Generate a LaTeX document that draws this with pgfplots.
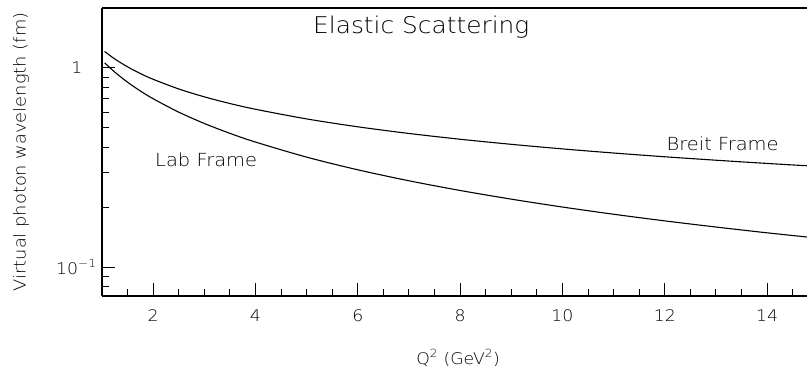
\documentclass[border=0pt]{standalone}
\usepackage{fontspec}
\setmainfont{DejaVu Sans ExtraLight}[FakeStretch=1.08]
\usepackage{pgfplots}
\pgfplotsset{compat=1.18}
\begin{document}
\begin{tikzpicture}
\begin{axis}[
  scale only axis, width=705pt, height=288pt,
  xmin=1, xmax=14.78,
  ymode=log, ymin=0.0715, ymax=2,
  clip=false,
  /pgf/number format/assume math mode=true,
  axis x line*=bottom, axis y line*=left,
  axis line style={line width=1.2pt, black},
  tick align=inside,
  xtick={2,4,...,14},
  xticklabels={2,4,6,8,10,12,14},
  minor xtick={1.5,2,...,14.5},
  ytick={0.1,1},
  yticklabels={10\textsuperscript{−1}, 1\hspace*{14pt}},
  minor ytick={0.08,0.09,0.2,0.3,0.4,0.5,0.6,0.7,0.8,0.9,2},
  major tick length=13pt, minor tick length=7pt,
  every tick/.style={line width=1pt, black},
  ticklabel style={font=\fontsize{16}{18}\selectfont},
  xticklabel style={yshift=-10pt},
  yticklabel style={xshift=-2pt},
  xlabel={Q\textsuperscript{2} (GeV\textsuperscript{2})},
  ylabel={Virtual photon wavelength (fm)},
  xlabel style={at={(rel axis cs:0.505,-0.2153)}, anchor=center, font=\fontsize{16}{18}\selectfont},
  ylabel style={at={(rel axis cs:-0.1149,0.5)}, anchor=center, font=\fontsize{16.5}{18}\selectfont},
]
% Breit frame
\addplot[smooth, line width=1.1pt, black] coordinates {
(1.05,1.2099) (1.25,1.1089) (1.5,1.0123) (1.75,0.9372) (2,0.8767)
(2.5,0.7841) (3,0.7158) (3.5,0.6627) (4,0.6199) (5,0.5545) (6,0.5061)
(7,0.4686) (8,0.4383) (9,0.4133) (10,0.3921) (11,0.3738) (12,0.3579)
(13,0.3439) (14,0.3313) (14.78,0.3225)
};
% Lab frame
\addplot[smooth, line width=1.1pt, black] coordinates {
(1.05,1.0619) (1.25,0.9527) (1.5,0.8477) (1.75,0.7660) (2,0.7001)
(2.5,0.5996) (3,0.5260) (3.5,0.4693) (4,0.4242) (5,0.3564) (6,0.3078)
(7,0.2711) (8,0.2423) (9,0.2192) (10,0.2001) (11,0.1841) (12,0.1705)
(13,0.1588) (14,0.1485) (14.78,0.1415)
};
\draw[line width=1.2pt, black] (rel axis cs:0,1) -- (rel axis cs:1,1);
\node[font=\fontsize{23}{26}\selectfont, anchor=base] at (axis cs:7.24,1.482) {Elastic Scattering};
\node[font=\fontsize{18}{20}\selectfont, anchor=base] at (axis cs:3.036,0.318) {Lab Frame};
\node[font=\fontsize{18}{20}\selectfont, anchor=base] at (axis cs:13.13,0.387) {Breit Frame};
\coordinate (sw) at (rel axis cs:0,0);
\coordinate (ne) at (rel axis cs:1,1);
\end{axis}
\pgfresetboundingbox
\path[use as bounding box] ([xshift=-102pt,yshift=-74pt]sw) rectangle ([yshift=8pt]ne);
\end{tikzpicture}
\end{document}
